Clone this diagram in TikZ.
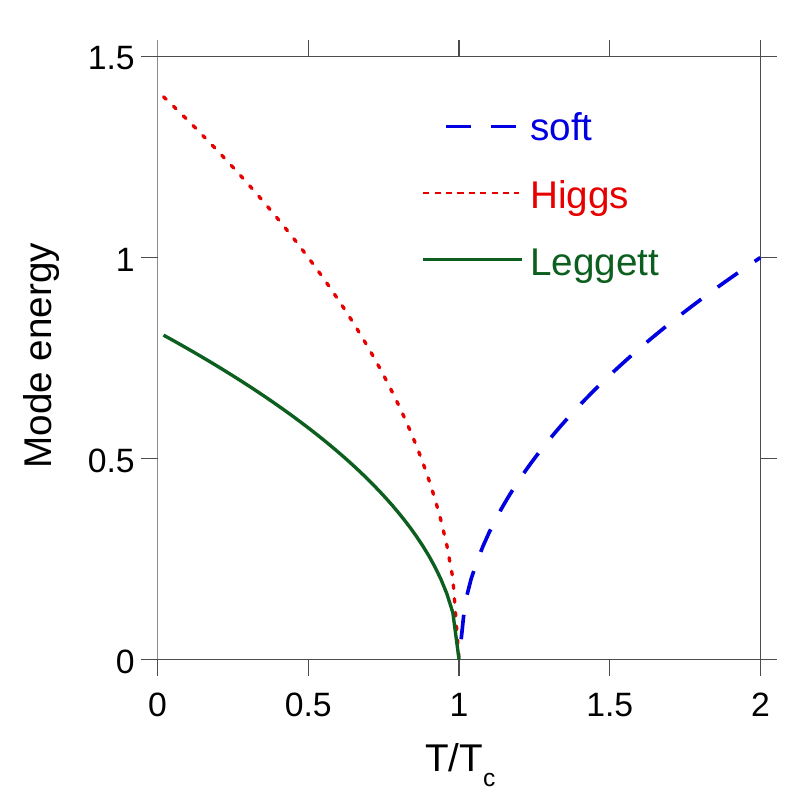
\documentclass[tikz,border=0pt]{standalone}
\usepackage{fontspec}
\setmainfont{Liberation Sans}
\usepackage{tikz}
\usetikzlibrary{calc}
\definecolor{softblue}{RGB}{0,0,225}
\definecolor{higgsred}{RGB}{230,0,0}
\definecolor{leggettgreen}{RGB}{12,95,30}
\tikzstyle{axisline}=[draw,black!70,line width=1pt]
\tikzstyle{leftaxis}=[draw,black!45,line width=1.4pt]
\tikzstyle{ticklabel}=[inner sep=0pt,font=\fontsize{24}{28}\selectfont]
\tikzstyle{axislabel}=[inner sep=0pt,font=\fontsize{27.5}{32}\selectfont]
\tikzstyle{softcurve}=[draw,softblue,line width=2.6pt,dash pattern=on 17.5pt off 14.5pt]
\tikzstyle{higgscurve}=[draw,higgsred,line width=2.4pt,line cap=round,dash pattern=on 2.5pt off 7.3pt]
\tikzstyle{leggettcurve}=[draw,leggettgreen,line width=2.4pt]
\tikzstyle{softkey}=[draw,softblue,line width=1.9pt,dash pattern=on 17.5pt off 14.5pt]
\tikzstyle{higgskey}=[draw,higgsred,line width=1.9pt,dash pattern=on 4.3pt off 3.8pt]
\tikzstyle{leggettkey}=[draw,leggettgreen,line width=2.2pt]

\begin{document}
\begin{tikzpicture}[x=7.5375cm, y=10.05cm]

    % Keep the margins of the figure
    \useasboundingbox (-0.5224,-0.3644) rectangle (2.0912,1.6405);
    \def\tx{0.0531}
    \def\ty{0.0398}

    % Draw the frame, each side running one tick past the corners
    \draw[axisline] (-\tx,1.5) -- (2+\tx,1.5);
    \draw[axisline] (-\tx,0) -- (2+\tx,0);
    \draw[axisline] (2,-\ty) -- (2,1.5+\ty);
    \draw[leftaxis] (0,-\ty) -- (0,1.5+\ty);

    % Outward ticks
    \foreach \x in {0,0.5,1,1.5,2}
        \draw[axisline] (\x,0) -- (\x,-\ty);
    \foreach \x in {0.5,1,1.5,2}
        \draw[axisline] (\x,1.5) -- (\x,1.5+\ty);
    \foreach \y in {0,0.5,1,1.5}
        \draw[axisline] (0,\y) -- (-\tx,\y);
    \foreach \y in {0,0.5,1}
        \draw[axisline] (2,\y) -- (2+\tx,\y);

    % Tick labels
    \foreach \pos/\name/\label in {{0/xt0/0}, {0.5/xt1/0.5}, {1/xt2/1}, {1.5/xt3/1.5}, {2/xt4/2}}
        \node[ticklabel,anchor=north] (\name) at (\pos,-0.0833) {\label};
    \foreach \pos/\name/\label in {{0/yt0/0}, {0.5/yt1/0.5}, {1/yt2/1}, {1.5/yt3/1.5}}
        \node[ticklabel,anchor=east] (\name) at (-0.0746,\pos-0.005) {\label};

    % Axis titles
    \node[axislabel,anchor=base west] (xtitle) at (0.887,-0.2791) {T/T\raisebox{-0.375cm}{\fontsize{17.5}{20}\selectfont c}};
    \node[axislabel,anchor=base,rotate=90] (ytitle) at (-0.3532,0.7557) {Mode energy};

    % The three modes, sampled every 0.02 and ending on T=Tc
    \draw[higgscurve] plot[domain=0.02:0.98,samples=49] (\x,{1.414*sqrt(1-\x)}) -- (1,0);
    \draw[leggettcurve] plot[domain=0.02:0.98,samples=49] (\x,{0.815*sqrt(1-\x)}) -- (1,0);
    \draw[softcurve,dash phase=17.5pt] (1,0) -- plot[domain=1.02:2,samples=50] (\x,{sqrt(\x-1)});

    % Legend
    \node[axislabel,anchor=base west,text=softblue] (soft) at (1.2355,1.2898) {soft};
    \node[axislabel,anchor=base west,text=higgsred] (higgs) at (1.2355,1.1224) {Higgs};
    \node[axislabel,anchor=base west,text=leggettgreen] (leggett) at (1.2355,0.9547) {Leggett};
    \draw[softkey] (0.9569,1.3264) -- (1.1881,1.3264);
    \draw[higgskey] (0.8816,1.1604) -- (1.2,1.1604);
    \draw[leggettkey] (0.8816,0.9945) -- (1.208,0.9945);

\end{tikzpicture}
\end{document}
